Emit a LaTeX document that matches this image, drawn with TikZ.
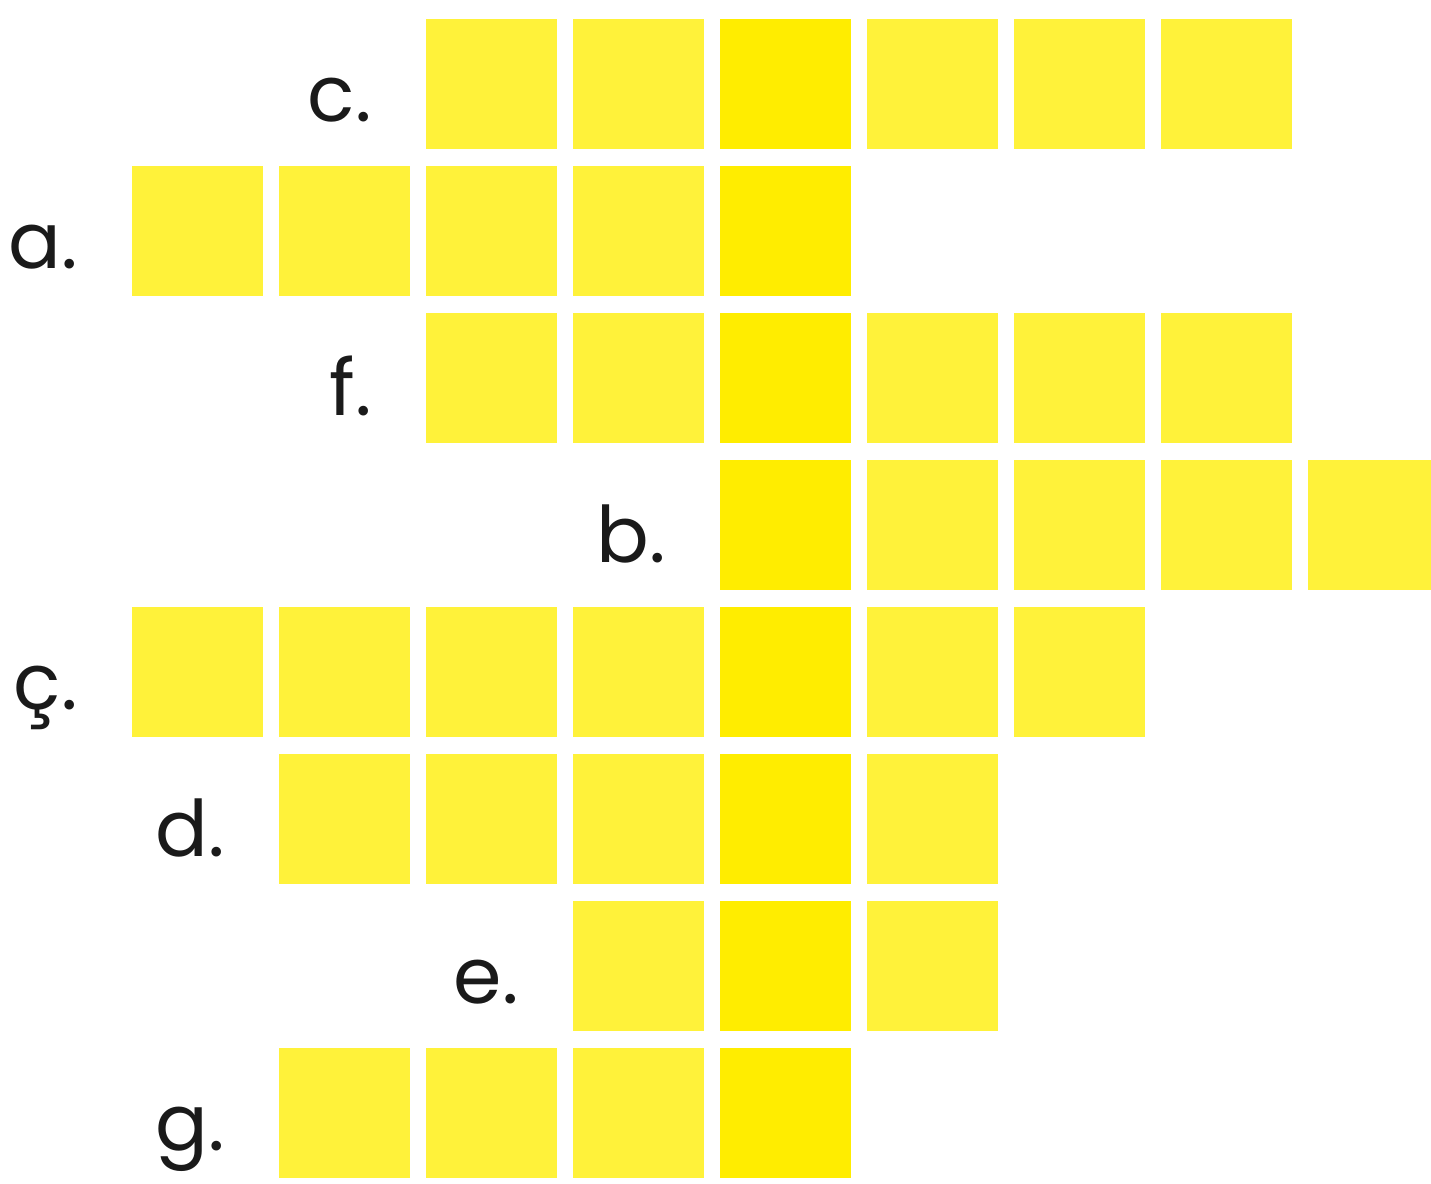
\documentclass[tikz,border=0pt]{standalone}
\usepackage{fontspec}
\setmainfont{Poppins}
\definecolor{cell}{HTML}{FFF23A}
\definecolor{key}{HTML}{FFED00}
\definecolor{ink}{HTML}{1A1A1A}
\begin{document}
\begin{tikzpicture}[x=0.5pt,y=-0.5pt,
  cellbox/.style={fill=cell,draw=none,minimum width=65.5pt,minimum height=65pt,inner sep=0pt,outer sep=0pt,anchor=north west},
  keybox/.style={cellbox,fill=key},
  lab/.style={anchor=base east,inner sep=0pt,text=ink,font=\fontsize{39}{46}\selectfont}]
\useasboundingbox (0,0) rectangle (1431,1184);
\clip (0,0) rectangle (1431,1184);
\foreach \nm/\lb/\r/\a/\b in {c/c./0/2/7, a/a./1/0/4, f/f./2/2/7, b/b./3/4/8, cc/ç./4/0/6, d/d./5/1/5, e/e./6/3/5, g/g./7/1/4}{
  \foreach \i in {\a,...,\b}{
    \ifnum\i=4
      \node[keybox] (\nm-\i) at ({132+147*\i},{19+147*\r}) {};
    \else
      \node[cellbox] (\nm-\i) at ({132+147*\i},{19+147*\r}) {};
    \fi
  }
  \node[lab] (\nm-lab) at ({132+147*\a-54},{121+147*\r}) {\lb};
}
\end{tikzpicture}
\end{document}
